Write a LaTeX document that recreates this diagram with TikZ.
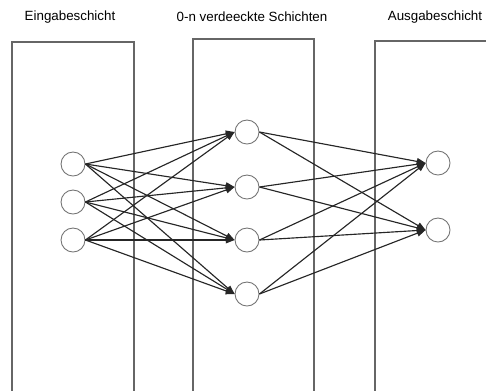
\documentclass[tikz,border=0pt]{standalone}
\usepackage{fontspec}
\setmainfont{Liberation Sans}
\usepackage{tikz}
\usetikzlibrary{arrows.meta}

\begin{document}
\begin{tikzpicture}[
  x=0.02cm, y=-0.02cm,
  font=\fontsize{7.6pt}{9pt}\selectfont,
  layer/.style={draw=black!60, line width=0.8pt},
  neuron/.style={draw=black!55, circle, minimum size=0.48cm, inner sep=0pt,
                 line width=0.5pt},
  link/.style={draw=black!85, line width=0.65pt,
               -{Triangle[length=5pt, width=3.8pt]}},
]
\useasboundingbox (0,0) rectangle (486,390);
\clip (0,0) rectangle (486,390);

% layer frames, open at the bottom
\draw[layer] (12,400) |- (134,42) -- (134,400);
\draw[layer] (193,400) |- (314,39) -- (314,400);
\draw[layer] (375,400) |- (500,41) -- (500,400);

\node (lin)  at (70,17)  {Eingabeschicht};
\node (lhid) at (252,17) {0-n verdeeckte Schichten};
\node (lout) at (435,17) {Ausgabeschicht};

% input layer
\node[neuron] (i1) at (73,164) {};
\node[neuron] (i2) at (73,202) {};
\node[neuron] (i3) at (73,240) {};

% hidden layer
\node[neuron] (h1) at (247,132) {};
\node[neuron] (h2) at (247,187) {};
\node[neuron] (h3) at (247,240) {};
\node[neuron] (h4) at (247,294) {};

% output layer
\node[neuron] (o1) at (438,163) {};
\node[neuron] (o2) at (438,230) {};

\draw[link] (i1.east) -- (h1.west);
\draw[link] (i1.east) -- (h2.west);
\draw[link] (i1.east) -- (h3.west);
\draw[link] (i1.east) -- (h4.west);
\draw[link] (i2.east) -- (h1.west);
\draw[link] (i2.east) -- (h2.west);
\draw[link] (i2.east) -- (h3.west);
\draw[link] (i2.east) -- (h4.west);
\draw[link] (i3.east) -- (h1.west);
\draw[link] (i3.east) -- (h2.west);
\draw[link] (i3.east) -- (h3.west);
\draw[link] (i3.east) -- (h4.west);

\draw[link] (h1.east) -- (o1.west);
\draw[link] (h1.east) -- (o2.west);
\draw[link] (h2.east) -- (o1.west);
\draw[link] (h2.east) -- (o2.west);
\draw[link] (h3.east) -- (o1.west);
\draw[link] (h3.east) -- (o2.west);
\draw[link] (h4.east) -- (o1.west);
\draw[link] (h4.east) -- (o2.west);

\end{tikzpicture}
\end{document}
